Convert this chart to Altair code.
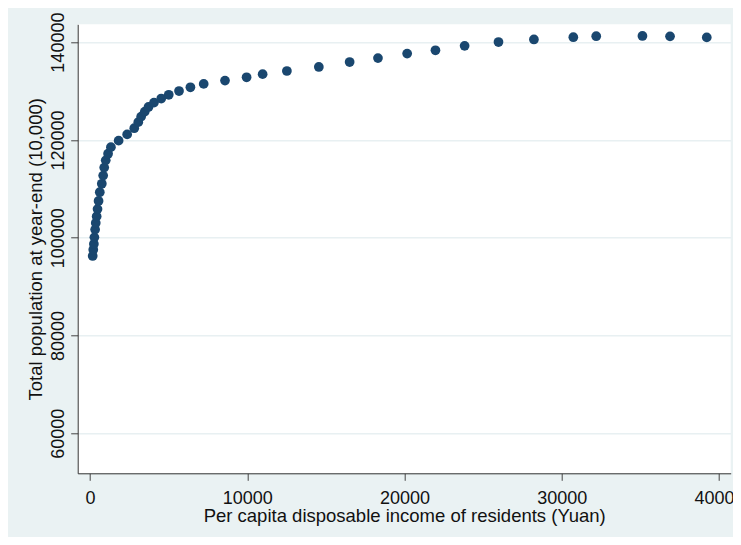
import altair as alt
import pandas as pd

# Per capita disposable income of residents (Yuan), 1978-2023
income = [171, 208, 247, 279, 326, 365, 423, 479, 544, 622, 751, 838, 904, 1000, 1150,
          1330, 1820, 2363, 2814, 3070, 3254, 3485, 3721, 4070, 4532, 5007, 5661, 6385,
          7229, 8584, 9957, 10977, 12520, 14551, 16510, 18311, 20167, 21966, 23821,
          25974, 28228, 30733, 32189, 35128, 36883, 39218]
# Total population at year-end (10,000)
population = [96259, 97542, 98705, 100072, 101654, 103008, 104357, 105851, 107507, 109300,
              111026, 112704, 114333, 115823, 117171, 118517, 119850, 121121, 122389,
              123626, 124761, 125786, 126743, 127627, 128453, 129227, 129988, 130756,
              131448, 132129, 132802, 133450, 134091, 134916, 135922, 136726, 137646,
              138326, 139232, 140011, 140541, 141008, 141212, 141260, 141175, 140967]

x_ticks = [0, 10000, 20000, 30000, 40000]
y_ticks = [60000, 80000, 100000, 120000, 140000]

df = pd.DataFrame({"income": income, "pop": population})

FONT = "Liberation Sans"
W, H = 653, 449

chart = alt.Chart(df).mark_circle(size=95, color="#1A476F", opacity=1).encode(
    x=alt.X("income:Q",
            scale=alt.Scale(domain=[-782, 40740], nice=False, zero=False),
            axis=alt.Axis(values=x_ticks, format="d", grid=False,
                          title="Per capita disposable income of residents (Yuan)",
                          labelBaseline="alphabetic", labelPadding=23,
                          titleBaseline="alphabetic", titleY=48.4)),
    y=alt.Y("pop:Q",
            scale=alt.Scale(domain=[51816, 143642], nice=False, zero=False),
            axis=alt.Axis(values=y_ticks, format="d", grid=True,
                          gridColor="#E8F0F2", gridWidth=1.5,
                          title="Total population at year-end (10,000)",
                          labelAngle=270, labelAlign="center",
                          labelBaseline="alphabetic", labelPadding=7.2,
                          titleAngle=270, titleAlign="center",
                          titleBaseline="alphabetic", titleX=-36.2, titleY=H / 2)),
).properties(
    width=W, height=H,
    autosize=alt.AutoSizeParams(type="none"),
    padding={"left": 69.7, "top": 16.3, "right": 2.3, "bottom": 63.7},
).configure(
    background="#EAF2F3",
).configure_view(
    fill="white", stroke=None,
).configure_axis(
    labelFont=FONT, titleFont=FONT,
    labelFontSize=18, titleFontSize=18.5,
    labelColor="#111", titleColor="#111",
    titleFontWeight="normal",
    domainColor="#333", domainWidth=1,
    tickColor="#444", tickSize=7, tickWidth=1,
    labelFlush=False, labelOverlap=False,
)

chart.save("out.html", embed_options={"renderer": "svg", "actions": False})
